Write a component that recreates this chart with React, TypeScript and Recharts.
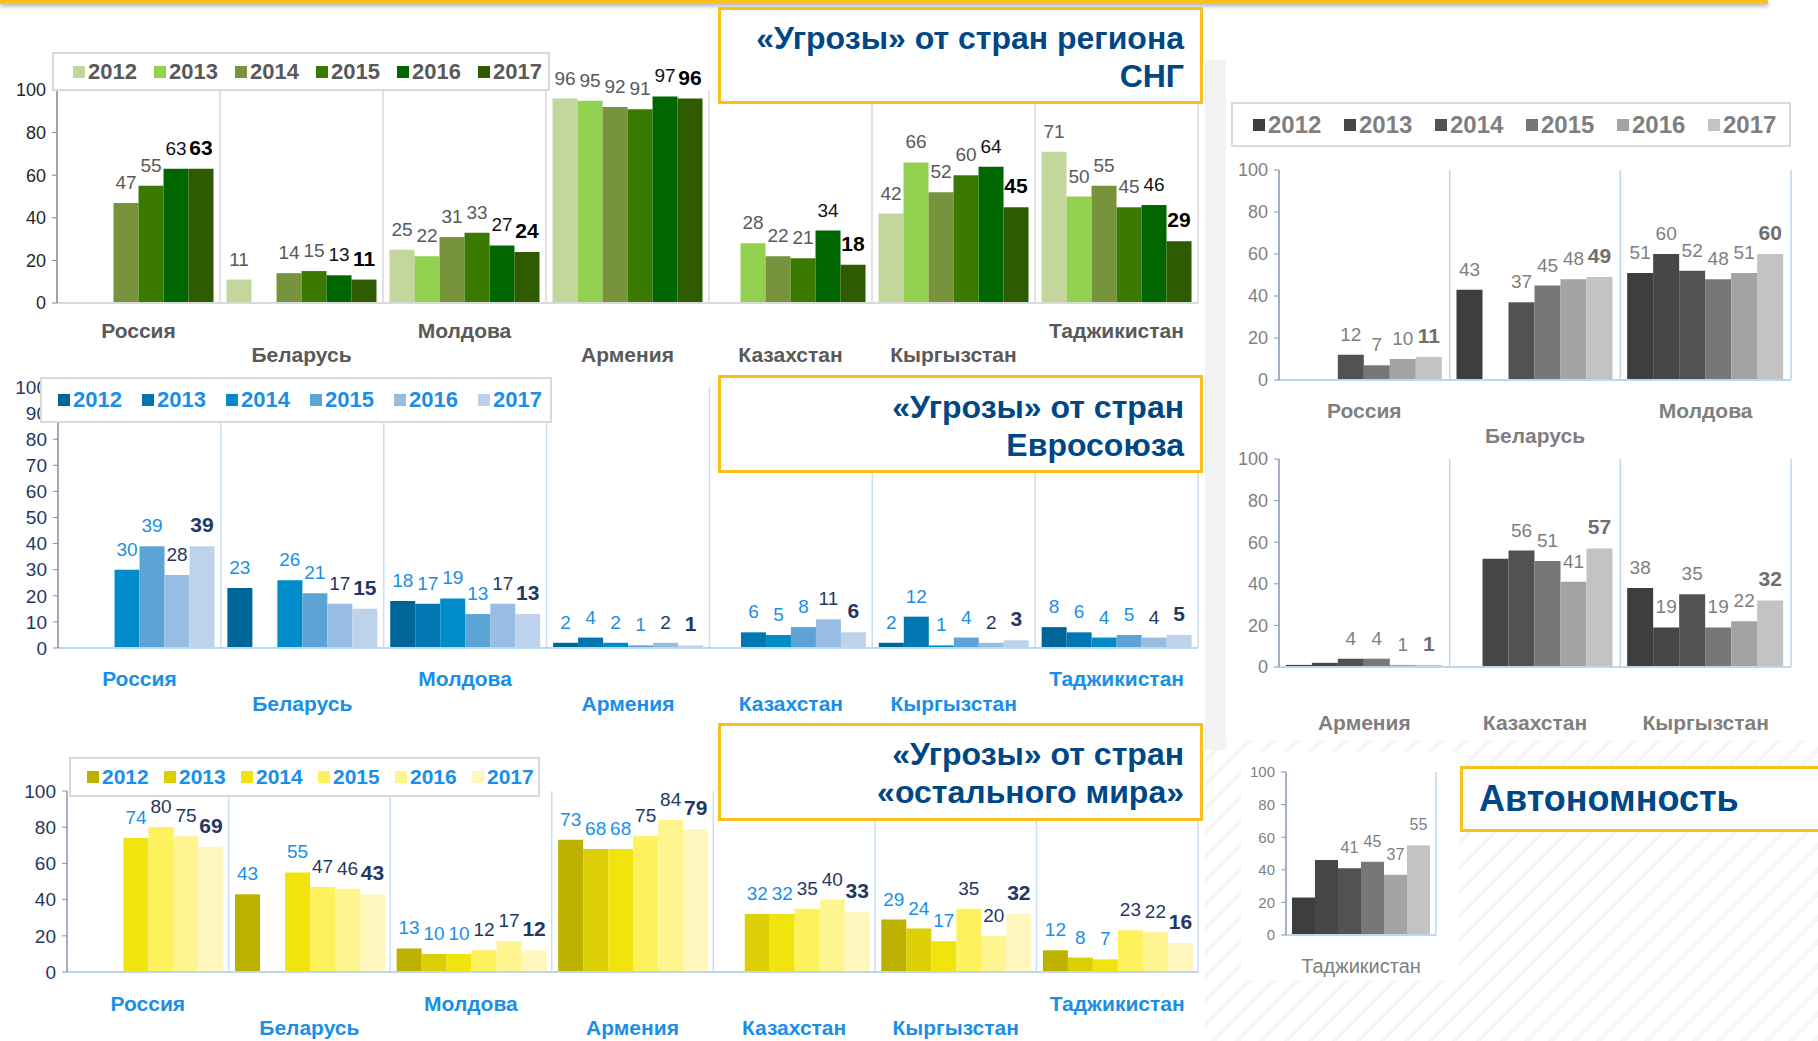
import { Bar, BarChart, CartesianGrid, LabelList, XAxis, YAxis } from 'recharts';

const FONT = "'Liberation Sans', Arial, Helvetica, sans-serif";

const YEARS = ['2012', '2013', '2014', '2015', '2016', '2017'];
const COUNTRIES = ['Россия', 'Беларусь', 'Молдова', 'Армения', 'Казахстан', 'Кыргызстан', 'Таджикистан'];
// 0 = first label row, 1 = second (staggered) row
const LABEL_ROWS = [0, 1, 0, 1, 1, 1, 0];

// «Угрозы» от стран региона СНГ, %
const CIS_VALUES = [
  [null, null, 47, 55, 63, 63],
  [11, null, 14, 15, 13, 11],
  [25, 22, 31, 33, 27, 24],
  [96, 95, 92, 91, 97, 96],
  [null, 28, 22, 21, 34, 18],
  [42, 66, 52, 60, 64, 45],
  [71, 50, 55, 45, 46, 29],
];
// «Угрозы» от стран Евросоюза, %
const EU_VALUES = [
  [null, null, 30, 39, 28, 39],
  [23, null, 26, 21, 17, 15],
  [18, 17, 19, 13, 17, 13],
  [2, 4, 2, 1, 2, 1],
  [null, 6, 5, 8, 11, 6],
  [2, 12, 1, 4, 2, 3],
  [8, 6, 4, 5, 4, 5],
];
// «Угрозы» от стран «остального мира», %
const WORLD_VALUES = [
  [null, null, 74, 80, 75, 69],
  [43, null, 55, 47, 46, 43],
  [13, 10, 10, 12, 17, 12],
  [73, 68, 68, 75, 84, 79],
  [null, 32, 32, 35, 40, 33],
  [29, 24, 17, 35, 20, 32],
  [12, 8, 7, 23, 22, 16],
];
// Автономность, %
const AUTO_WEST = ['Россия', 'Беларусь', 'Молдова'];
const AUTO_WEST_ROWS = [0, 1, 0];
const AUTO_WEST_VALUES = [
  [null, null, 12, 7, 10, 11],
  [43, null, 37, 45, 48, 49],
  [51, 60, 52, 48, 51, 60],
];
const AUTO_EAST = ['Армения', 'Казахстан', 'Кыргызстан'];
const AUTO_EAST_ROWS = [0, 0, 0];
const AUTO_EAST_VALUES = [
  [1, 2, 4, 4, 1, 1],
  [0, 52, 56, 51, 41, 57],
  [38, 19, 35, 19, 22, 32],
];
const AUTO_TJ = ['Таджикистан'];
const AUTO_TJ_VALUES = [[23, 46, 41, 45, 37, 55]];
// bars that carry no value label in the original
const AUTO_UNLABELLED = ['Армения|2012', 'Армения|2013', 'Казахстан|2013', 'Таджикистан|2012', 'Таджикистан|2013'];

const TICKS_20 = [0, 20, 40, 60, 80, 100];
const TICKS_10 = [0, 10, 20, 30, 40, 50, 60, 70, 80, 90, 100];

const GREEN = ['#c3d69b', '#92d050', '#77933c', '#3b7a00', '#006600', '#2e5a00'];
const BLUE = ['#006699', '#0077b0', '#008ccb', '#5ca3d6', '#98bde2', '#bdd3ec'];
const YELLOW = ['#bdb100', '#dccf05', '#f1e40e', '#fdf15c', '#fef490', '#fff7bd'];
const GREY = ['#3e3e3e', '#474747', '#525252', '#777777', '#a3a3a3', '#c3c3c3'];

const TITLE_BLUE = '#004785';
const FRAME_YELLOW = '#f8c11c';
const LIGHT_BLUE = '#1a8fe8';
const NAVY = '#1f3864';

type LabelStyle = { fill: string; weight: number; size: number };

type ChartProps = {
  names: string[];
  values: (number | null)[][];
  colors: string[];
  x0: number;
  x1: number;
  yTop: number;
  yBase: number;
  ticks: number[];
  tickColor: string;
  tickSize: number;
  yAxisColor: string;
  xAxisColor: string;
  gridColor: string;
  rows: number[];
  rowOffsets: number[];
  catColor: string;
  catSize: number;
  catWeight: number;
  labelStyle: (j: number) => LabelStyle;
  labelLift?: number;
  hidden?: string[];
};

function GroupedBars(p: ChartProps) {
  const data = p.names.map((name, i) => {
    const r: Record<string, string | number | null> = { name };
    YEARS.forEach((yr, j) => {
      r[yr] = p.values[i][j];
    });
    return r;
  });
  const n = p.names.length;
  const lift = p.labelLift ?? 14;
  const left = p.x0 - 60;
  const top = p.yTop - 36;
  const width = p.x1 - left + 10;
  const height = p.yBase - top + 70;

  return (
    <div style={{ position: 'absolute', left, top }}>
      <BarChart
        width={width}
        height={height}
        data={data}
        margin={{ top: 36, right: 10, left: 8, bottom: 10 }}
        barGap={0}
        barCategoryGap="4%"
      >
        <CartesianGrid
          horizontal={false}
          stroke={p.gridColor}
          strokeWidth={1.5}
          verticalCoordinatesGenerator={({ offset }: any) =>
            offset ? Array.from({ length: n }, (_, i) => offset.left + (offset.width * (i + 1)) / n) : []
          }
        />
        <XAxis
          dataKey="name"
          interval={0}
          height={60}
          tickSize={0}
          tickMargin={0}
          tickLine={false}
          axisLine={{ stroke: p.xAxisColor, strokeWidth: 2 }}
          tick={(t: any) => (
            <text
              x={t.x}
              y={t.y + p.rowOffsets[p.rows[t.index] ?? 0]}
              textAnchor="middle"
              dominantBaseline="central"
              fill={p.catColor}
              fontSize={p.catSize}
              fontWeight={p.catWeight}
              fontFamily={FONT}
            >
              {t.payload.value}
            </text>
          )}
        />
        <YAxis
          type="number"
          domain={[0, 100]}
          ticks={p.ticks}
          interval={0}
          width={52}
          tickSize={5}
          tickMargin={6}
          axisLine={{ stroke: p.yAxisColor, strokeWidth: 1.5 }}
          tickLine={{ stroke: p.yAxisColor }}
          tick={{ fill: p.tickColor, fontSize: p.tickSize, fontFamily: FONT }}
        />
        {YEARS.map((yr, j) => (
          <Bar key={yr} dataKey={yr} fill={p.colors[j]} isAnimationActive={false}>
            <LabelList
              dataKey={yr}
              content={(lp: any) => {
                const v = lp.value;
                if (v === null || v === undefined) return null;
                if (p.hidden && p.hidden.includes(`${p.names[lp.index]}|${yr}`)) return null;
                const s = p.labelStyle(j);
                return (
                  <text
                    x={Number(lp.x) + Number(lp.width) / 2}
                    y={Number(lp.y) - lift}
                    textAnchor="middle"
                    fill={s.fill}
                    fontSize={s.size}
                    fontWeight={s.weight}
                    fontFamily={FONT}
                  >
                    {v}
                  </text>
                );
              }}
            />
          </Bar>
        ))}
      </BarChart>
    </div>
  );
}

type LegendProps = {
  left: number;
  top: number;
  width: number;
  height: number;
  colors: string[];
  textColor: string;
  fontSize: number;
  padLeft: number;
  step: number;
};

function YearLegend(p: LegendProps) {
  return (
    <div
      style={{
        position: 'absolute',
        left: p.left,
        top: p.top,
        width: p.width,
        height: p.height,
        boxSizing: 'border-box',
        border: '2px solid #d9d9d9',
        background: '#fff',
      }}
    >
      {YEARS.map((yr, j) => (
        <div
          key={yr}
          style={{
            position: 'absolute',
            left: p.padLeft + j * p.step,
            top: 0,
            height: p.height - 4,
            display: 'flex',
            alignItems: 'center',
            gap: 3,
          }}
        >
          <span style={{ width: 12, height: 12, background: p.colors[j], display: 'inline-block' }} />
          <span style={{ color: p.textColor, fontSize: p.fontSize, fontWeight: 700, fontFamily: FONT }}>{yr}</span>
        </div>
      ))}
    </div>
  );
}

function TitleBox(props: { left: number; top: number; width: number; height: number; lines: string[]; padTop: number }) {
  return (
    <div
      style={{
        position: 'absolute',
        left: props.left,
        top: props.top,
        width: props.width,
        height: props.height,
        boxSizing: 'border-box',
        border: `3px solid ${FRAME_YELLOW}`,
        background: '#fff',
        paddingTop: props.padTop,
        paddingRight: 16,
        textAlign: 'right',
        color: TITLE_BLUE,
        fontFamily: FONT,
        fontWeight: 700,
        fontSize: 32,
        lineHeight: '38px',
      }}
    >
      {props.lines.map((l) => (
        <div key={l}>{l}</div>
      ))}
    </div>
  );
}

const cisLabel = (j: number): LabelStyle =>
  j < 4 ? { fill: '#595959', weight: 400, size: 19 } : j === 4 ? { fill: '#111', weight: 400, size: 19 } : { fill: '#000', weight: 700, size: 21 };
const euLabel = (j: number): LabelStyle =>
  j < 4 ? { fill: LIGHT_BLUE, weight: 400, size: 19 } : j === 4 ? { fill: NAVY, weight: 400, size: 19 } : { fill: NAVY, weight: 700, size: 21 };
const worldLabel = (j: number): LabelStyle =>
  j < 3 ? { fill: LIGHT_BLUE, weight: 400, size: 19 } : j < 5 ? { fill: NAVY, weight: 400, size: 19 } : { fill: NAVY, weight: 700, size: 21 };
const greyLabel = (j: number): LabelStyle =>
  j < 5 ? { fill: '#7f7f7f', weight: 400, size: 19 } : { fill: '#6f6f6f', weight: 700, size: 21 };
const greySmallLabel = (): LabelStyle => ({ fill: '#7f7f7f', weight: 400, size: 16 });

export default function App() {
  return (
    <div
      style={{
        position: 'absolute',
        left: 0,
        top: 0,
        width: 1818,
        height: 1041,
        overflow: 'hidden',
        background: '#fff',
        fontFamily: FONT,
      }}
    >
      {/* slide backdrop */}
      <div
        style={{
          position: 'absolute',
          left: 1205,
          top: 740,
          width: 613,
          height: 301,
          background:
            'repeating-linear-gradient(135deg, rgba(0,0,0,0) 0px, rgba(0,0,0,0) 13px, rgba(0,0,0,0.035) 13px, rgba(0,0,0,0.035) 17px)',
        }}
      />
      <div style={{ position: 'absolute', left: 1205, top: 60, width: 21, height: 690, background: '#f3f3f6' }} />
      <div style={{ position: 'absolute', left: 1241, top: 752, width: 218, height: 228, background: '#fff' }} />
      <div
        style={{
          position: 'absolute',
          left: 0,
          top: 0,
          width: 1768,
          height: 4,
          background: FRAME_YELLOW,
          boxShadow: '0 2px 4px rgba(0,0,0,0.35)',
        }}
      />

      <GroupedBars
        names={COUNTRIES}
        values={CIS_VALUES}
        colors={GREEN}
        x0={57}
        x1={1198}
        yTop={90}
        yBase={303}
        ticks={TICKS_20}
        tickColor="#262626"
        tickSize={18}
        yAxisColor="#868686"
        xAxisColor="#d9d9d9"
        gridColor="#d9d9d9"
        rows={LABEL_ROWS}
        rowOffsets={[27, 51]}
        catColor="#595959"
        catSize={21}
        catWeight={700}
        labelStyle={cisLabel}
      />
      <GroupedBars
        names={COUNTRIES}
        values={EU_VALUES}
        colors={BLUE}
        x0={58}
        x1={1198}
        yTop={387}
        yBase={648}
        ticks={TICKS_10}
        tickColor={NAVY}
        tickSize={19}
        yAxisColor="#7f8fa6"
        xAxisColor="#bdd7ee"
        gridColor="#c9e0f4"
        rows={LABEL_ROWS}
        rowOffsets={[30, 55]}
        catColor={LIGHT_BLUE}
        catSize={21}
        catWeight={700}
        labelStyle={euLabel}
      />
      <GroupedBars
        names={COUNTRIES}
        values={WORLD_VALUES}
        colors={YELLOW}
        x0={67}
        x1={1198}
        yTop={791}
        yBase={972}
        ticks={TICKS_20}
        tickColor={NAVY}
        tickSize={19}
        yAxisColor="#8497b0"
        xAxisColor="#bdd7ee"
        gridColor="#c9e0f4"
        rows={LABEL_ROWS}
        rowOffsets={[31, 55]}
        catColor={LIGHT_BLUE}
        catSize={21}
        catWeight={700}
        labelStyle={worldLabel}
      />

      <GroupedBars
        names={AUTO_WEST}
        values={AUTO_WEST_VALUES}
        colors={GREY}
        x0={1279}
        x1={1791}
        yTop={170}
        yBase={380}
        ticks={TICKS_20}
        tickColor="#7f7f7f"
        tickSize={18}
        yAxisColor="#8497b0"
        xAxisColor="#bdd7ee"
        gridColor="#bdd7ee"
        rows={AUTO_WEST_ROWS}
        rowOffsets={[30, 55]}
        catColor="#7f7f7f"
        catSize={21}
        catWeight={700}
        labelStyle={greyLabel}
        hidden={AUTO_UNLABELLED}
      />
      <GroupedBars
        names={AUTO_EAST}
        values={AUTO_EAST_VALUES}
        colors={GREY}
        x0={1279}
        x1={1791}
        yTop={459}
        yBase={667}
        ticks={TICKS_20}
        tickColor="#7f7f7f"
        tickSize={18}
        yAxisColor="#8497b0"
        xAxisColor="#bdd7ee"
        gridColor="#bdd7ee"
        rows={AUTO_EAST_ROWS}
        rowOffsets={[55, 55]}
        catColor="#7f7f7f"
        catSize={21}
        catWeight={700}
        labelStyle={greyLabel}
        hidden={AUTO_UNLABELLED}
      />
      <GroupedBars
        names={AUTO_TJ}
        values={AUTO_TJ_VALUES}
        colors={GREY}
        x0={1286}
        x1={1436}
        yTop={772}
        yBase={935}
        ticks={TICKS_20}
        tickColor="#7f7f7f"
        tickSize={15}
        yAxisColor="#8497b0"
        xAxisColor="#bdd7ee"
        gridColor="#bdd7ee"
        rows={[0]}
        rowOffsets={[31, 31]}
        catColor="#7f7f7f"
        catSize={20}
        catWeight={400}
        labelStyle={greySmallLabel}
        labelLift={15}
        hidden={AUTO_UNLABELLED}
      />

      <YearLegend left={52} top={52} width={498} height={39} colors={GREEN} textColor="#595959" fontSize={22} padLeft={19} step={81} />
      <YearLegend left={40} top={377} width={512} height={46} colors={BLUE} textColor={LIGHT_BLUE} fontSize={22} padLeft={16} step={84} />
      <YearLegend left={69} top={757} width={471} height={40} colors={YELLOW} textColor={LIGHT_BLUE} fontSize={21} padLeft={16} step={77} />
      <YearLegend left={1231} top={102} width={560} height={45} colors={GREY} textColor="#7f7f7f" fontSize={24} padLeft={20} step={91} />

      <TitleBox left={718} top={7} width={485} height={97} lines={['«Угрозы» от стран региона', 'СНГ']} padTop={9} />
      <TitleBox left={718} top={375} width={485} height={98} lines={['«Угрозы» от стран', 'Евросоюза']} padTop={10} />
      <TitleBox left={718} top={723} width={485} height={98} lines={['«Угрозы» от стран', '«остального мира»']} padTop={9} />

      <div
        style={{
          position: 'absolute',
          left: 1460,
          top: 766,
          width: 420,
          height: 66,
          boxSizing: 'border-box',
          border: `3px solid ${FRAME_YELLOW}`,
          background: '#fff',
          paddingLeft: 16,
          color: TITLE_BLUE,
          fontWeight: 700,
          fontSize: 36,
          lineHeight: '60px',
        }}
      >
        Автономность
      </div>
    </div>
  );
}
